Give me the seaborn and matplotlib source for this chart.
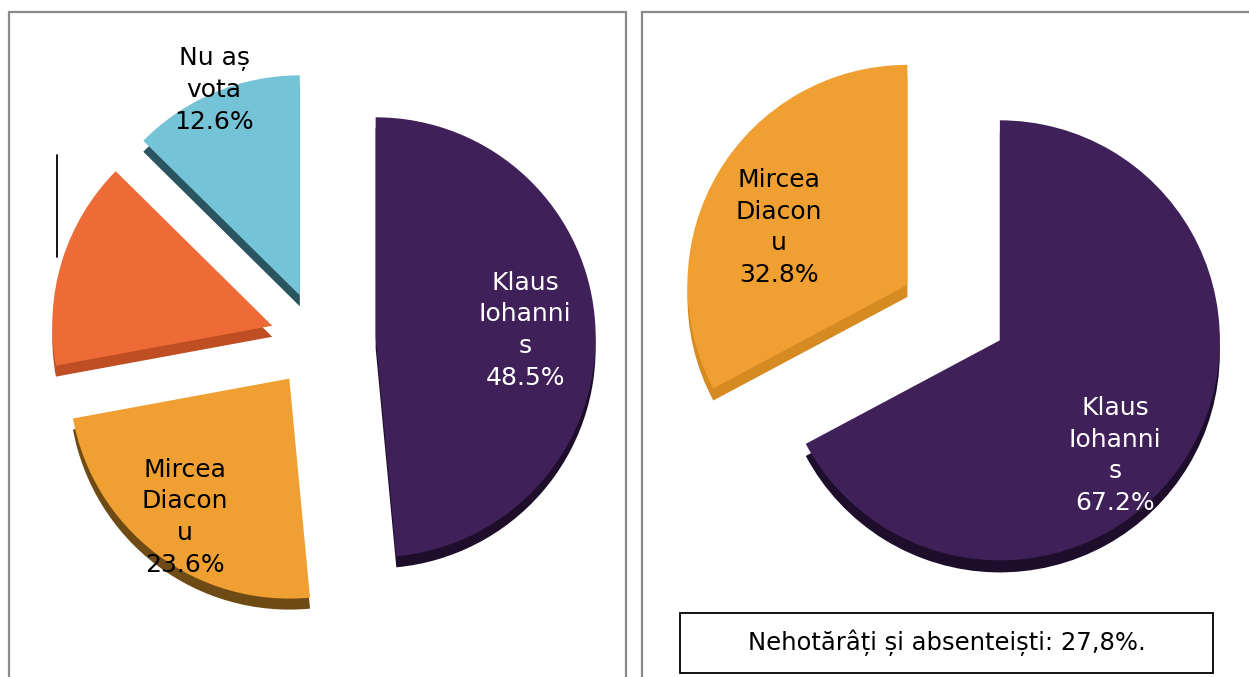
import matplotlib
matplotlib.use("Agg")
import numpy as np
import matplotlib.pyplot as plt
from matplotlib.patches import Rectangle
from matplotlib.lines import Line2D
import seaborn as sns

# Voting intentions, first round (left) and runoff (right)
left_labels = ["Klaus\nIohanni\ns", "Mircea\nDiacon\nu", "", "Nu aș\nvota"]
left_values = [48.5, 23.6, 15.3, 12.6]

right_labels = ["Klaus\nIohanni\ns", "Mircea\nDiacon\nu"]
right_values = [67.2, 32.8]

note_text = "Nehotărâți și absenteiști: 27,8%."

sns.set_theme(style="white")
plt.rcParams["font.family"] = ["DejaVu Sans"]

W, H = 1249, 677
fig = plt.figure(figsize=(W / 100, H / 100), dpi=100)
fig.patch.set_facecolor("white")

R_PX = 220          # pie radius in pixels
LIM = 1.6           # half-width of each pie axes in radius units


def pie_axes(cx, cy):
    side = 2 * LIM * R_PX
    ax = fig.add_axes([(cx - side / 2) / W, (H - cy - side / 2) / H, side / W, side / H])
    return ax


def draw_pie(ax, values, labels, face, side, explode, depth, text_colors,
             label_dist, label_shift):
    common = dict(startangle=90, counterclock=False, explode=explode,
                  wedgeprops=dict(linewidth=0, antialiased=True))
    # extruded side of the pie, drawn slightly lower
    ax.pie(values, colors=side, center=(0, -depth), **common)
    wedges, _ = ax.pie(values, colors=face, **common)
    for w, lab, val, tc, d, sh in zip(wedges, labels, values, text_colors,
                                      label_dist, label_shift):
        if not lab:
            continue
        mid = np.deg2rad((w.theta1 + w.theta2) / 2 + sh)
        x = w.center[0] + d * w.r * np.cos(mid)
        y = w.center[1] + d * w.r * np.sin(mid)
        ax.text(x, y, f"{lab}\n{val:.1f}%", ha="center", va="center",
                color=tc, fontsize=18, linespacing=1.4)
    ax.set_xlim(-LIM, LIM)
    ax.set_ylim(-LIM, LIM)
    ax.set_aspect("equal")
    ax.axis("off")


purple, amber, coral, sky = "#3f2059", "#f0a032", "#ee6b38", "#74c3d6"

# left pie: four exploded slices
axL = pie_axes(318.5, 340)
draw_pie(axL, left_values, left_labels,
         face=[purple, amber, coral, sky],
         side=["#1e0e2c", "#6e4a14", "#bf4e22", "#2a5560"],
         explode=[0.26, 0.22, 0.22, 0.22], depth=0.05,
         text_colors=["white", "black", "black", "black"],
         label_dist=[0.68, 0.79, 0.0, 1.01], label_shift=[0, 0, 0, 0])

# right pie: runoff
axR = pie_axes(981, 329)
draw_pie(axR, right_values, right_labels,
         face=[purple, amber],
         side=["#1e0e2c", "#d68a22"],
         explode=[0.10, 0.39], depth=0.055,
         text_colors=["white", "black"],
         label_dist=[0.74, 0.64], label_shift=[-14, 7])

# panel frames
frame_kw = dict(fill=False, edgecolor="#8a8a8a", linewidth=1.6,
                transform=None, zorder=5)
fig.add_artist(Rectangle((9, H - 712), 617, 700, **frame_kw))
fig.add_artist(Rectangle((642, H - 712), 640, 700, **frame_kw))

# stray leader line of the unlabeled slice
fig.add_artist(Line2D([57, 57], [H - 155, H - 257], color="black",
                      linewidth=1.3, transform=None, zorder=5))

# note box
fig.add_artist(Rectangle((680, H - 673), 533, 60, fill=False,
                         edgecolor="black", linewidth=1.3,
                         transform=None, zorder=5))
fig.text(947 / W, (H - 643) / H, note_text, ha="center", va="center",
         fontsize=17.5, color="black")

fig.savefig("out.png", dpi=100, facecolor="white")
